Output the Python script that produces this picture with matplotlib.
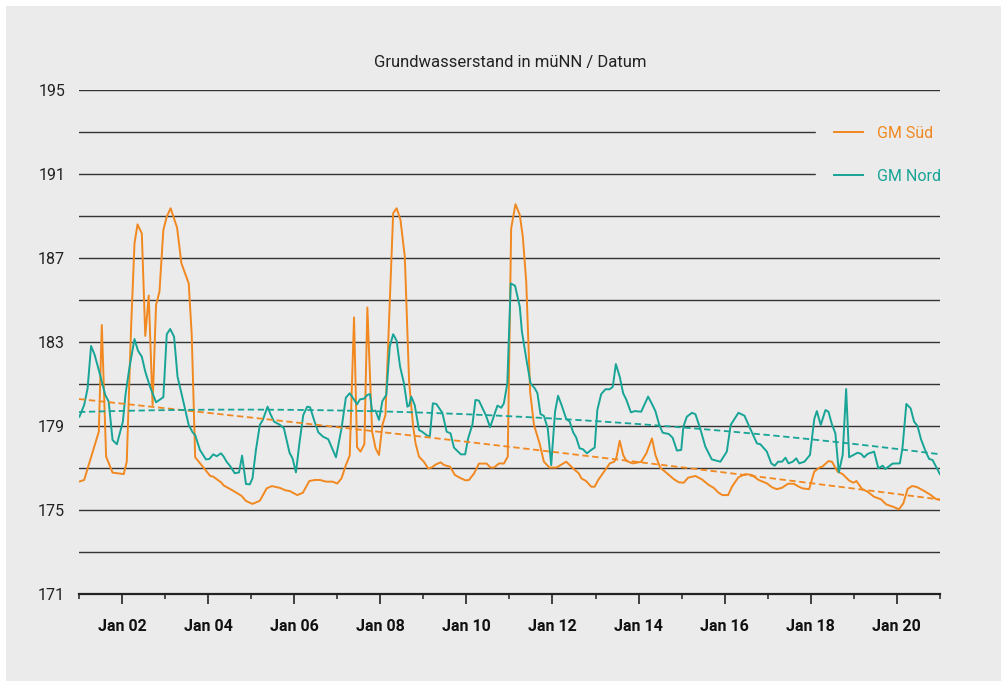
import numpy as np
import matplotlib
matplotlib.use("Agg")
import matplotlib.pyplot as plt
import matplotlib.dates as mdates
from matplotlib.patches import Rectangle
from datetime import datetime, timedelta

plt.rcParams['font.family'] = ['Roboto', 'DejaVu Sans']

# ---------------- data (decimal year, level in müNN) ----------------
sued_t = [2001.00, 2001.12, 2001.46, 2001.53, 2001.63, 2001.78, 2002.04, 2002.11, 2002.21, 2002.29,
          2002.36, 2002.46, 2002.54, 2002.62, 2002.71, 2002.79, 2002.87, 2002.96, 2003.04, 2003.13,
          2003.28, 2003.38, 2003.55, 2003.62, 2003.70, 2003.91, 2004.05, 2004.12, 2004.30, 2004.37,
          2004.58, 2004.78, 2004.88, 2005.03, 2005.20, 2005.36, 2005.48, 2005.67, 2005.79, 2005.90,
          2006.07, 2006.20, 2006.35, 2006.48, 2006.60, 2006.74, 2006.89, 2007.00, 2007.10, 2007.20,
          2007.29, 2007.39, 2007.46, 2007.54, 2007.63, 2007.70, 2007.81, 2007.89, 2007.97, 2008.05,
          2008.12, 2008.22, 2008.30, 2008.38, 2008.47, 2008.57, 2008.67, 2008.76, 2008.82, 2008.90,
          2009.01, 2009.11, 2009.19, 2009.29, 2009.40, 2009.48, 2009.62, 2009.73, 2009.87, 2009.98,
          2010.06, 2010.18, 2010.29, 2010.47, 2010.56, 2010.64, 2010.76, 2010.87, 2010.96, 2011.04,
          2011.14, 2011.24, 2011.31, 2011.39, 2011.48, 2011.57, 2011.70, 2011.80, 2011.93, 2012.09,
          2012.32, 2012.48, 2012.61, 2012.67, 2012.78, 2012.90, 2012.98, 2013.06, 2013.17, 2013.33,
          2013.43, 2013.48, 2013.56, 2013.64, 2013.71, 2013.85, 2013.95, 2014.06, 2014.18, 2014.31,
          2014.39, 2014.50, 2014.66, 2014.81, 2014.93, 2015.05, 2015.15, 2015.32, 2015.47, 2015.63,
          2015.74, 2015.86, 2015.95, 2016.08, 2016.17, 2016.32, 2016.48, 2016.63, 2016.79, 2016.98,
          2017.10, 2017.21, 2017.33, 2017.47, 2017.60, 2017.75, 2017.81, 2017.96, 2018.08, 2018.20,
          2018.27, 2018.41, 2018.49, 2018.62, 2018.74, 2018.89, 2018.99, 2019.06, 2019.19, 2019.32,
          2019.47, 2019.63, 2019.75, 2019.94, 2020.05, 2020.15, 2020.25, 2020.35, 2020.46, 2020.64,
          2020.79, 2020.91, 2021.00]
sued_v = [176.35, 176.43, 178.73, 183.81, 177.54, 176.78, 176.71, 177.30, 183.67, 187.70,
          188.60, 188.17, 183.29, 185.21, 180.00, 184.76, 185.40, 188.33, 188.97, 189.37,
          188.44, 186.75, 185.79, 183.33, 177.51, 176.98, 176.62, 176.59, 176.32, 176.16,
          175.92, 175.67, 175.43, 175.29, 175.44, 176.03, 176.14, 176.05, 175.94, 175.90,
          175.71, 175.82, 176.38, 176.43, 176.43, 176.35, 176.35, 176.26, 176.51, 177.14,
          177.59, 184.17, 177.99, 177.78, 178.13, 184.64, 178.73, 177.94, 177.62, 179.05,
          179.52, 184.92, 189.13, 189.37, 188.81, 187.06, 181.11, 179.05, 178.17, 177.54,
          177.30, 176.98, 177.02, 177.17, 177.27, 177.14, 177.06, 176.67, 176.51, 176.41,
          176.43, 176.75, 177.21, 177.21, 177.02, 177.02, 177.22, 177.21, 177.54, 188.41,
          189.56, 189.05, 188.02, 185.87, 180.63, 179.05, 178.17, 177.30, 177.02, 177.02,
          177.30, 176.98, 176.75, 176.51, 176.38, 176.11, 176.11, 176.43, 176.75, 177.22,
          177.30, 177.46, 178.30, 177.62, 177.35, 177.22, 177.25, 177.30, 177.70, 178.41,
          177.62, 177.02, 176.75, 176.48, 176.32, 176.30, 176.54, 176.62, 176.46, 176.19,
          176.06, 175.82, 175.71, 175.71, 176.11, 176.56, 176.71, 176.67, 176.43, 176.27,
          176.08, 175.99, 176.06, 176.25, 176.25, 176.08, 176.03, 175.99, 176.83, 177.02,
          177.07, 177.33, 177.30, 176.83, 176.71, 176.40, 176.30, 176.38, 176.00, 175.87,
          175.63, 175.51, 175.27, 175.13, 175.03, 175.32, 176.00, 176.14, 176.10, 175.90,
          175.71, 175.52, 175.48]

nord_t = [2001.01, 2001.12, 2001.20, 2001.28, 2001.36, 2001.47, 2001.61, 2001.69, 2001.78, 2001.88,
          2002.02, 2002.08, 2002.17, 2002.29, 2002.37, 2002.46, 2002.54, 2002.65, 2002.79, 2002.96,
          2003.04, 2003.12, 2003.21, 2003.29, 2003.39, 2003.55, 2003.64, 2003.70, 2003.81, 2003.95,
          2004.03, 2004.12, 2004.20, 2004.30, 2004.36, 2004.43, 2004.51, 2004.62, 2004.72, 2004.79,
          2004.88, 2004.97, 2005.03, 2005.11, 2005.20, 2005.27, 2005.38, 2005.44, 2005.53, 2005.67,
          2005.76, 2005.89, 2005.96, 2006.04, 2006.12, 2006.21, 2006.30, 2006.37, 2006.46, 2006.56,
          2006.67, 2006.79, 2006.87, 2006.97, 2007.10, 2007.20, 2007.29, 2007.37, 2007.46, 2007.53,
          2007.62, 2007.70, 2007.76, 2007.81, 2007.89, 2007.97, 2008.05, 2008.14, 2008.22, 2008.30,
          2008.38, 2008.46, 2008.55, 2008.63, 2008.67, 2008.72, 2008.80, 2008.90, 2008.97, 2009.09,
          2009.15, 2009.22, 2009.30, 2009.44, 2009.54, 2009.63, 2009.71, 2009.87, 2009.97, 2010.04,
          2010.14, 2010.21, 2010.29, 2010.45, 2010.55, 2010.72, 2010.81, 2010.87, 2010.95, 2011.03,
          2011.13, 2011.24, 2011.29, 2011.39, 2011.49, 2011.59, 2011.65, 2011.72, 2011.80, 2011.89,
          2011.97, 2012.06, 2012.13, 2012.22, 2012.32, 2012.40, 2012.48, 2012.55, 2012.63, 2012.71,
          2012.80, 2012.90, 2012.98, 2013.04, 2013.13, 2013.23, 2013.33, 2013.40, 2013.47, 2013.56,
          2013.64, 2013.71, 2013.82, 2013.91, 2014.06, 2014.22, 2014.31, 2014.39, 2014.48, 2014.56,
          2014.70, 2014.79, 2014.89, 2014.99, 2015.04, 2015.12, 2015.24, 2015.32, 2015.43, 2015.55,
          2015.70, 2015.90, 2016.05, 2016.14, 2016.32, 2016.46, 2016.59, 2016.75, 2016.83, 2016.98,
          2017.08, 2017.16, 2017.24, 2017.33, 2017.41, 2017.48, 2017.58, 2017.66, 2017.73, 2017.85,
          2017.98, 2018.08, 2018.14, 2018.23, 2018.34, 2018.41, 2018.49, 2018.57, 2018.65, 2018.74,
          2018.82, 2018.89, 2018.99, 2019.09, 2019.17, 2019.24, 2019.32, 2019.47, 2019.57, 2019.67,
          2019.73, 2019.90, 2020.07, 2020.13, 2020.22, 2020.32, 2020.40, 2020.48, 2020.56, 2020.67,
          2020.75, 2020.83, 2021.00]
nord_v = [179.44, 180.00, 180.79, 182.81, 182.41, 181.59, 180.48, 180.16, 178.33, 178.13,
          179.21, 180.48, 181.75, 183.14, 182.59, 182.30, 181.59, 180.87, 180.13, 180.37,
          183.37, 183.62, 183.25, 181.35, 180.48, 179.05, 178.70, 178.57, 177.86, 177.41,
          177.43, 177.65, 177.56, 177.70, 177.55, 177.30, 177.10, 176.75, 176.79, 177.59,
          176.24, 176.22, 176.51, 177.86, 179.05, 179.29, 179.92, 179.60, 179.21, 179.05,
          178.89, 177.73, 177.46, 176.79, 178.17, 179.52, 179.92, 179.89, 179.29, 178.70,
          178.49, 178.37, 177.99, 177.51, 178.89, 180.35, 180.56, 180.32, 180.03, 180.27,
          180.30, 180.48, 180.52, 179.71, 179.73, 179.29, 180.19, 180.48, 182.78, 183.37,
          183.06, 181.83, 181.03, 179.92, 179.97, 180.40, 180.00, 178.81, 178.73, 178.54,
          178.52, 180.08, 180.05, 179.63, 178.73, 178.65, 177.97, 177.65, 177.65, 178.41,
          179.08, 180.24, 180.21, 179.52, 178.94, 179.97, 179.87, 180.08, 181.03, 185.79,
          185.68, 184.68, 183.49, 182.22, 181.03, 180.79, 180.56, 179.57, 179.48, 178.89,
          177.14, 179.68, 180.44, 179.95, 179.33, 179.21, 178.70, 178.46, 177.94, 177.89,
          177.70, 177.86, 177.97, 179.76, 180.52, 180.75, 180.75, 180.87, 181.95, 181.35,
          180.56, 180.27, 179.65, 179.71, 179.68, 180.40, 180.05, 179.71, 179.05, 178.68,
          178.62, 178.44, 177.83, 177.86, 178.97, 179.44, 179.63, 179.56, 178.89, 178.02,
          177.41, 177.30, 177.78, 179.05, 179.63, 179.49, 178.89, 178.17, 178.13, 177.78,
          177.22, 177.11, 177.30, 177.30, 177.49, 177.22, 177.30, 177.46, 177.22, 177.30,
          177.62, 179.33, 179.71, 179.05, 179.76, 179.68, 179.08, 178.65, 176.79, 177.62,
          180.76, 177.51, 177.62, 177.73, 177.67, 177.51, 177.67, 177.78, 176.98, 177.11,
          176.95, 177.21, 177.22, 177.94, 180.05, 179.84, 179.21, 179.00, 178.37, 177.78,
          177.43, 177.38, 176.70]

# trend lines
trend_t = [2001.00, 2004.28, 2007.62, 2010.97, 2014.31, 2017.66, 2021.00]
sued_trend = [180.29, 179.57, 178.78, 178.01, 177.22, 176.39, 175.48]
nord_trend = [179.68, 179.76, 179.71, 179.48, 179.05, 178.44, 177.65]

labels = ["GM Süd", "GM Nord"]
title = "Grundwasserstand in müNN / Datum"

ORANGE = "#f18820"
TEAL = "#18a497"
BG = "#ebebeb"


def to_dates(ts):
    out = []
    for t in ts:
        y = int(t)
        out.append(datetime(y, 1, 1) + timedelta(days=(t - y) * 365.25))
    return out


fig = plt.figure(figsize=(10.01, 6.83), dpi=100, facecolor="white")
fig.patches.append(Rectangle((6 / 1001, 2 / 683), 1 - 6 / 1001, 1 - 8 / 683,
                             transform=fig.transFigure, facecolor=BG,
                             edgecolor="none", zorder=-10))

ax = fig.add_axes([79 / 1001, 1 - 594 / 683, (940 - 79) / 1001, (594 - 90) / 683])
ax.set_facecolor(BG)

ax.plot(to_dates(sued_t), sued_v, color=ORANGE, lw=1.4, label=labels[0], zorder=3)
ax.plot(to_dates(nord_t), nord_v, color=TEAL, lw=1.4, label=labels[1], zorder=3)

# smooth trend curves (2nd order fit through the read trend values)
tt = np.linspace(trend_t[0], trend_t[-1], 200)
for vals, col in [(sued_trend, ORANGE), (nord_trend, TEAL)]:
    c = np.polyfit(np.array(trend_t) - 2001, vals, 2)
    ax.plot(to_dates(tt), np.polyval(c, tt - 2001), color=col, lw=1.3,
            ls=(0, (3.5, 2)), zorder=3)

ax.set_xlim(datetime(2001, 1, 1), datetime(2021, 1, 1))
ax.set_ylim(171, 195)
ax.set_yticks(np.arange(171, 196, 4))
ax.set_yticks(np.arange(173, 195, 4), minor=True)
ax.yaxis.grid(True, which="both", color="#333333", lw=1.0)
ax.set_axisbelow(True)

ax.xaxis.set_major_locator(mdates.YearLocator(2))
ax.xaxis.set_minor_locator(mdates.YearLocator(1))
ax.xaxis.set_major_formatter(mdates.DateFormatter("%b %y"))

for s in ["top", "right", "left"]:
    ax.spines[s].set_visible(False)
ax.spines["bottom"].set_color("#222222")
ax.spines["bottom"].set_linewidth(1.6)

ax.tick_params(axis="y", which="both", length=0, pad=10, labelsize=11.5, labelcolor="#222222")
ax.tick_params(axis="x", which="major", length=7, width=1.2, color="#222222", pad=11,
               labelsize=11.5, labelcolor="#111111")
ax.tick_params(axis="x", which="minor", length=3.5, width=1.1, color="#222222")
for lab in ax.get_xticklabels():
    lab.set_fontweight("bold")

leg = ax.legend(loc="upper left", bbox_to_anchor=(816 / 1001, 1 - 108 / 683),
                bbox_transform=fig.transFigure, frameon=True, fancybox=False,
                facecolor=BG, edgecolor=BG, framealpha=1, fontsize=11.5,
                handlelength=1.85, handletextpad=0.9, labelspacing=1.78,
                borderpad=1.1, borderaxespad=0, labelcolor="linecolor")
leg.set_zorder(5)

fig.text(510 / 1001, 1 - 62 / 683, title, ha="center", va="center", fontsize=12,
         color="#222222")

fig.savefig("out.png", dpi=100, facecolor="white")
